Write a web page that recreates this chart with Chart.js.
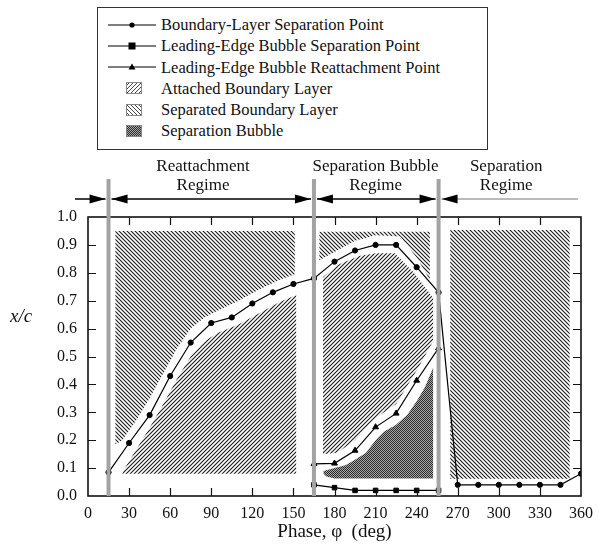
<!DOCTYPE html>
<html>
<head>
<meta charset="utf-8">
<script src="https://cdn.jsdelivr.net/npm/chart.js@4.4.1/dist/chart.umd.min.js"></script>
<style>
body{margin:0;background:#fff;}
#wrap{position:relative;width:601px;height:546px;}
#legend{position:absolute;left:97px;top:7px;width:391px;height:143px;border:1px solid #333;box-sizing:border-box;
  font-family:"Liberation Serif",serif;font-size:16.5px;color:#111;padding-top:6px;background:#fff;}
.row{position:relative;height:21.3px;line-height:21.3px;white-space:nowrap;}
.row canvas{position:absolute;}
.row span{position:absolute;left:63px;top:0;}
</style>
</head>
<body>
<div id="wrap">
  <canvas id="chart" width="601" height="546"></canvas>
  <div id="legend"></div>
</div>
<script>
// boundary-layer separation point
var phase = [15,30,45,60,75,90,105,120,135,150,165,180,195,210,225,240,256,270,285,300,315,330,345,360];
var blSep = [0.085,0.19,0.29,0.43,0.55,0.62,0.64,0.69,0.73,0.76,0.78,0.84,0.88,0.90,0.90,0.82,0.73,0.04,0.04,0.04,0.04,0.04,0.04,0.08];

// leading-edge bubble
var lePhase = [165,180,195,210,225,240,256];
var leSep = [0.04,0.03,0.02,0.02,0.02,0.02,0.02];
var leReat = [0.115,0.117,0.163,0.247,0.296,0.414,0.53];

// region outlines [phase, x/c]
var sepReattach = [[20,0.95],[151,0.95],[151,0.795],[140,0.775],[125,0.74],[110,0.70],[95,0.665],[85,0.64],[75,0.60],[65,0.53],[55,0.44],[45,0.35],[35,0.27],[25,0.20],[20,0.185]];
var attReattach = [[25,0.08],[152,0.08],[152,0.72],[140,0.695],[125,0.655],[110,0.615],[95,0.585],[85,0.555],[75,0.50],[65,0.42],[55,0.33],[45,0.245],[35,0.165],[27,0.10]];
var sepBubble = [[169,0.947],[249.6,0.947],[249.6,0.775],[240,0.855],[228,0.93],[210,0.935],[195,0.915],[180,0.875],[169,0.845]];
var attBubble = [[171.6,0.785],[183,0.83],[198,0.86],[210,0.87],[224,0.87],[238,0.80],[252,0.71],[252,0.555],[240,0.45],[225,0.33],[210,0.28],[195,0.20],[182,0.155],[171.6,0.15]];
var bubble = [[172,0.09],[180,0.10],[188,0.11],[195,0.13],[203,0.155],[210,0.20],[216,0.23],[225,0.255],[233,0.29],[240,0.34],[246,0.39],[252,0.46],[252,0.063],[180,0.063],[174,0.07],[172,0.08]];
var sepSeparation = [[264.5,0.953],[351.7,0.953],[351.7,0.062],[264.5,0.062]];

var regimeBounds = [15,165,256];
var regimeNames = [['Reattachment','Regime'],['Separation Bubble','Regime'],['Separation','Regime']];
var regimeCentres = [84,210,305.4];

var legendLabels = ['Boundary-Layer Separation Point','Leading-Edge Bubble Separation Point','Leading-Edge Bubble Reattachment Point',
  'Attached Boundary Layer','Separated Boundary Layer','Separation Bubble'];

var serif = '"Liberation Serif", "Times New Roman", serif';
var canvas = document.getElementById('chart');
var ctx = canvas.getContext('2d');

function hatchTile(dir,size,width,color){
  var c = document.createElement('canvas');
  c.width = size; c.height = size;
  var g = c.getContext('2d');
  g.strokeStyle = color; g.lineWidth = width;
  g.beginPath();
  if(dir=='\\'){
    g.moveTo(-1,-1); g.lineTo(size+1,size+1);
    g.moveTo(-1,size-1); g.lineTo(1,size+1);
    g.moveTo(size-1,-1); g.lineTo(size+1,1);
  } else {
    g.moveTo(-1,size+1); g.lineTo(size+1,-1);
    g.moveTo(-1,1); g.lineTo(1,-1);
    g.moveTo(size-1,size+1); g.lineTo(size+1,size-1);
  }
  g.stroke();
  return c;
}
function dotTile(){
  var c = document.createElement('canvas');
  c.width = 2; c.height = 2;
  var g = c.getContext('2d');
  g.fillStyle = '#a8a8a8'; g.fillRect(0,0,2,2);
  g.fillStyle = '#2a2a2a'; g.fillRect(0,0,1,1); g.fillRect(1,1,1,1);
  return c;
}
var sepTile = hatchTile('\\',4,1.1,'#1a1a1a');
var attTile = hatchTile('/',4,1.1,'#1a1a1a');
var bubTile = dotTile();
var sepPattern = ctx.createPattern(sepTile,'repeat');
var attPattern = ctx.createPattern(attTile,'repeat');
var bubPattern = ctx.createPattern(bubTile,'repeat');

function pts(list){ return list.map(function(p){ return {x:p[0],y:p[1]}; }); }
function series(xs,ys){ return xs.map(function(x,i){ return {x:x,y:ys[i]}; }); }
function region(label,list,pattern){
  return {label:label,data:pts(list),showLine:true,fill:'shape',backgroundColor:pattern,
    borderColor:'rgba(0,0,0,0)',borderWidth:0.01,pointRadius:0,tension:0,order:2};
}
function line(label,data,style,radius){
  return {label:label,data:data,showLine:true,fill:false,borderColor:'#000',borderWidth:1.2,tension:0,
    pointStyle:style,pointRadius:radius,pointBackgroundColor:'#000',pointBorderColor:'#000',pointBorderWidth:1,order:0};
}

var frame = {
  id:'frame',
  afterDraw:function(chart){
    var c = chart.ctx, a = chart.chartArea, xs = chart.scales.x, ys = chart.scales.y;
    var X = function(v){ return xs.getPixelForValue(v); };
    c.save();
    // inward ticks on all sides
    c.strokeStyle = '#111'; c.lineWidth = 1.2;
    c.beginPath();
    xs.ticks.forEach(function(t){
      if(t.value<=0 || t.value>=360) return;
      var px = Math.round(X(t.value))+0.5;
      c.moveTo(px,a.bottom); c.lineTo(px,a.bottom-8);
      c.moveTo(px,a.top); c.lineTo(px,a.top+8);
    });
    ys.ticks.forEach(function(t){
      if(t.value<=0.001 || t.value>=0.999) return;
      var py = Math.round(ys.getPixelForValue(t.value))+0.5;
      c.moveTo(a.left,py); c.lineTo(a.left+8,py);
      c.moveTo(a.right,py); c.lineTo(a.right-8,py);
    });
    c.stroke();
    c.lineWidth = 1.6;
    c.strokeRect(a.left,a.top,a.right-a.left,a.bottom-a.top);

    // regime boundaries
    c.strokeStyle = '#a3a3a3'; c.lineWidth = 4;
    c.beginPath();
    regimeBounds.forEach(function(b){ c.moveTo(X(b),a.top-38); c.lineTo(X(b),a.bottom); });
    c.stroke();

    // arrows
    var ay = a.top-18;
    function head(x,dir){
      c.beginPath(); c.moveTo(x,ay); c.lineTo(x-dir*16,ay-4.5); c.lineTo(x-dir*16,ay+4.5); c.closePath(); c.fill();
    }
    c.fillStyle = '#000'; c.strokeStyle = '#000'; c.lineWidth = 1.5;
    c.beginPath(); c.moveTo(X(0)-13,ay); c.lineTo(X(regimeBounds[0])-3,ay); c.stroke();
    head(X(regimeBounds[0])-3,1);
    for(var i=0;i<2;i++){
      var l = X(regimeBounds[i])+3, r = X(regimeBounds[i+1])-3;
      c.beginPath(); c.moveTo(l,ay); c.lineTo(r,ay); c.stroke();
      head(l,-1); head(r,1);
    }
    var l3 = X(regimeBounds[2])+3;
    c.strokeStyle = '#777'; c.lineWidth = 1.2;
    c.beginPath(); c.moveTo(l3,ay); c.lineTo(X(360)-3,ay); c.stroke();
    head(l3,-1);

    // regime names
    c.fillStyle = '#111'; c.font = '17px '+serif; c.textAlign = 'center'; c.textBaseline = 'middle';
    regimeNames.forEach(function(n,k){
      c.fillText(n[0],X(regimeCentres[k]),a.top-50);
      c.fillText(n[1],X(regimeCentres[k]),a.top-31);
    });

    // y title
    c.font = 'italic 19px '+serif; c.textAlign = 'left';
    c.fillText('x/c',10,a.top+100);
    c.restore();
  }
};

var tickFont = {family:serif,size:16};
new Chart(canvas,{
  type:'scatter',
  data:{datasets:[
    line(legendLabels[0],series(phase,blSep),'circle',2.6),
    line(legendLabels[1],series(lePhase,leSep),'rect',3.2),
    line(legendLabels[2],series(lePhase,leReat),'triangle',3.4),
    region('Separated reattachment',sepReattach,sepPattern),
    region('Attached reattachment',attReattach,attPattern),
    region('Separated bubble',sepBubble,sepPattern),
    region('Attached bubble',attBubble,attPattern),
    region('Separation bubble',bubble,bubPattern),
    region('Separated separation',sepSeparation,sepPattern)
  ]},
  options:{
    responsive:false,
    animation:false,
    layout:{padding:{top:217,right:12,left:0,bottom:0}},
    plugins:{legend:{display:false},tooltip:{enabled:false}},
    scales:{
      x:{type:'linear',min:0,max:360,
        ticks:{stepSize:30,padding:8,color:'#111',font:tickFont,maxRotation:0},
        grid:{display:false,drawTicks:false},border:{display:false},
        title:{display:true,text:'Phase, \u03c6  (deg)',color:'#111',font:{family:serif,size:19},padding:{top:0,bottom:3}},
        afterFit:function(s){ s.height = 50; }},
      y:{type:'linear',min:0,max:1,
        ticks:{stepSize:0.1,padding:11,color:'#111',font:tickFont,callback:function(v){ return v.toFixed(1); }},
        grid:{display:false,drawTicks:false},border:{display:false},
        afterFit:function(s){ s.width = 88; }}
    }
  },
  plugins:[frame]
});

// legend
var legend = document.getElementById('legend');
legendLabels.forEach(function(text,i){
  var row = document.createElement('div'); row.className = 'row';
  var sw = document.createElement('canvas');
  var g;
  if(i<3){
    sw.width = 48; sw.height = 12; sw.style.left = '10px'; sw.style.top = '4.6px';
    g = sw.getContext('2d');
    g.strokeStyle = '#000'; g.lineWidth = 1.2;
    g.beginPath(); g.moveTo(0,6); g.lineTo(48,6); g.stroke();
    g.fillStyle = '#000';
    if(i==0){ g.beginPath(); g.arc(24,6,2.6,0,Math.PI*2); g.fill(); }
    if(i==1){ g.fillRect(20.5,2.5,7,7); }
    if(i==2){ g.beginPath(); g.moveTo(24,2.5); g.lineTo(27.5,8.5); g.lineTo(20.5,8.5); g.closePath(); g.fill(); }
  } else {
    sw.width = 16; sw.height = 12; sw.style.left = '28px'; sw.style.top = '4.6px';
    g = sw.getContext('2d');
    var tile = i==3 ? hatchTile('/',4,1,'#444') : (i==4 ? hatchTile('\\',4,1,'#444') : bubTile);
    g.fillStyle = g.createPattern(tile,'repeat'); g.fillRect(0,0,16,12);
    g.strokeStyle = '#888'; g.lineWidth = 1; g.strokeRect(0.5,0.5,15,11);
  }
  var span = document.createElement('span'); span.textContent = text;
  row.appendChild(sw); row.appendChild(span);
  legend.appendChild(row);
});
</script>
</body>
</html>
